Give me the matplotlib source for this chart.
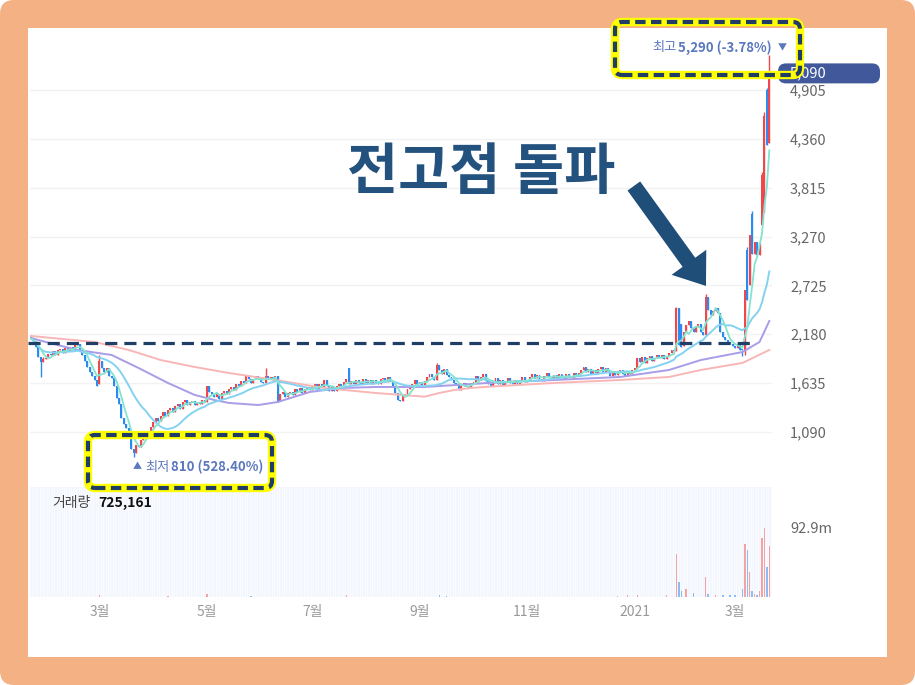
import numpy as np
import pandas as pd
import matplotlib
matplotlib.use("Agg")
import matplotlib.pyplot as plt
from matplotlib.patches import FancyBboxPatch
from matplotlib.transforms import IdentityTransform

plt.rcParams['font.family'] = ['Noto Sans CJK KR', 'DejaVu Sans']

W, H = 915, 685

# daily closes, one list per month of trading days
close_2020_01 = [2130, 2100, 2040, 1930, 1870, 1900, 1920, 1960]
close_2020_02 = [1945, 1990, 1950, 2000, 2020, 1970, 2030, 1990, 2040, 2010,
                 2060, 2070, 2010, 1950, 1880, 1820, 1760, 1720, 1670, 1600]
close_2020_03 = [1880, 1800, 1760, 1800, 1720, 1690, 1600, 1470, 1400, 1250,
                 1180, 1130, 1060, 900, 860, 950, 920, 1000, 1040, 1100, 1080, 1150]
close_2020_04 = [1200, 1250, 1210, 1270, 1310, 1270, 1340, 1360, 1310, 1380,
                 1400, 1350, 1430, 1450, 1390, 1420, 1440, 1390, 1430, 1400, 1450, 1420]
close_2020_05 = [1600, 1540, 1510, 1480, 1510, 1460, 1530, 1550, 1510, 1570,
                 1590, 1560, 1630, 1600, 1660, 1640, 1710, 1680, 1640, 1680, 1710]
close_2020_06 = [1690, 1650, 1640, 1720, 1690, 1700, 1670, 1710, 1440, 1510,
                 1540, 1480, 1520, 1540, 1500, 1570, 1540, 1580, 1530, 1570, 1590, 1560]
close_2020_07 = [1590, 1620, 1570, 1620, 1590, 1670, 1600, 1550, 1590, 1550,
                 1600, 1630, 1600, 1650, 1680, 1630, 1660, 1620, 1670, 1640, 1630, 1680, 1640]
close_2020_08 = [1670, 1630, 1670, 1640, 1630, 1680, 1690, 1650, 1700, 1660,
                 1600, 1520, 1450, 1440, 1490, 1510, 1570, 1590, 1630, 1670, 1630]
close_2020_09 = [1650, 1610, 1660, 1700, 1740, 1700, 1670, 1840, 1780, 1740,
                 1790, 1730, 1700, 1670, 1640, 1610, 1560, 1600, 1640, 1600, 1580, 1640]
close_2020_10 = [1640, 1720, 1670, 1700, 1740, 1660, 1630, 1600, 1650, 1690,
                 1630, 1670, 1610, 1650, 1690, 1640, 1620, 1670, 1630, 1660, 1700, 1650]
close_2020_11 = [1660, 1700, 1740, 1690, 1730, 1680, 1660, 1720, 1750, 1700,
                 1680, 1730, 1690, 1740, 1700, 1680, 1740, 1710, 1690, 1750, 1710]
close_2020_12 = [1750, 1780, 1810, 1760, 1790, 1740, 1780, 1750, 1790, 1810,
                 1760, 1800, 1770, 1710, 1770, 1730, 1760, 1780, 1740, 1720, 1770, 1740, 1780]
close_2021_01 = [1800, 1910, 1870, 1930, 1860, 1910, 1940, 1880, 1920, 1950,
                 1910, 1950, 1900, 1940, 1970, 2000, 1990, 2470, 2060, 2040, 2200]
close_2021_02 = [2280, 2330, 2250, 2200, 2260, 2300, 2210, 2170, 2600, 2450,
                 2400, 2440, 2470, 2420, 2200, 2150, 2120, 2090, 2070, 2050]
close_2021_03 = [2030, 2060, 2010, 2000, 2670, 2560, 3290, 3080, 3210, 3060,
                 3200, 3960, 4620, 4290, 5090]

# candles whose open / wick does not follow the previous close
open_fix = {0: 2150, 28: 1620, 72: 1430, 130: 1800, 266: 2300, 267: 2050,
            292: 1990, 293: 3120, 294: 2730, 295: 3520, 299: 3400, 300: 3540,
            301: 4900, 302: 4310}
high_fix = {5: 1930, 28: 1950, 96: 1800, 166: 1860, 226: 1815, 264: 2480,
            276: 2630, 293: 3150, 295: 3560, 299: 3990, 300: 4660, 301: 4930, 302: 5290}
low_fix = {4: 1700, 42: 810, 101: 1420, 291: 1940, 292: 1950}

# 60 / 120 day averages (they need history before the window)
ma60_idx = [0, 6, 19, 33, 44, 56, 67, 75, 81, 93, 101, 114, 127, 141, 161, 187,
            214, 241, 261, 274, 291, 298, 302]
ma60_val = [2139, 2094, 2005, 1949, 1804, 1637, 1503, 1447, 1414, 1391, 1425, 1536,
            1581, 1592, 1592, 1637, 1670, 1704, 1782, 1893, 1982, 2094, 2328]
ma120_idx = [0, 26, 40, 53, 67, 81, 100, 120, 141, 161, 167, 173, 180, 187, 214,
             241, 261, 274, 291, 302]
ma120_val = [2161, 2094, 2005, 1893, 1815, 1748, 1670, 1581, 1525, 1484, 1525, 1558,
             1581, 1595, 1637, 1670, 1704, 1782, 1860, 2005]

# volume in millions (only the bars that are visible)
volume_m = {28: 3, 56: 1.5, 72: 4, 90: 1, 129: 3, 167: 3, 170: 1.5, 240: 1.5,
            244: 2.5, 248: 2, 260: 2, 264: 57, 265: 20, 266: 8, 268: 11, 271: 5,
            276: 27, 277: 4, 280: 3, 283: 3, 286: 2, 288: 3, 291: 10, 292: 70,
            293: 63, 294: 33, 295: 8, 296: 4, 297: 3, 298: 8, 299: 78, 300: 92,
            301: 40, 302: 68}

price_ticks = [1090, 1635, 2180, 2725, 3270, 3815, 4360, 4905]
month_ticks = [('2020-03-01', '3월'), ('2020-05-01', '5월'), ('2020-07-01', '7월'),
               ('2020-09-01', '9월'), ('2020-11-01', '11월'), ('2021-01-01', '2021'),
               ('2021-03-01', '3월')]
breakout_level = 2080
last_price = 5090
last_volume = '725,161'

closes = np.array(close_2020_01 + close_2020_02 + close_2020_03 + close_2020_04 +
                  close_2020_05 + close_2020_06 + close_2020_07 + close_2020_08 +
                  close_2020_09 + close_2020_10 + close_2020_11 + close_2020_12 +
                  close_2021_01 + close_2021_02 + close_2021_03, dtype=float)
n = len(closes)
x = np.arange(n)
dates = pd.bdate_range('2020-01-22', periods=n)

opens = np.r_[closes[0], closes[:-1]]
for k, v in open_fix.items():
    opens[k] = v
highs = np.maximum(opens, closes)
lows = np.minimum(opens, closes)
for k, v in high_fix.items():
    highs[k] = max(highs[k], v)
for k, v in low_fix.items():
    lows[k] = min(lows[k], v)
up = closes >= opens

RED, BLUE = '#f0474c', '#2b8bef'
NAVY = '#1f4e79'

fig = plt.figure(figsize=(W / 100, H / 100), dpi=100)
fig.patch.set_facecolor('white')
ident = IdentityTransform()


def px_box(x0, y0, x1, y1, **kw):
    # box in pixels, measured from the top-left of the picture
    return FancyBboxPatch((x0, H - y1), x1 - x0, y1 - y0, transform=ident, **kw)


fig.add_artist(px_box(0, 0, W, H, boxstyle='round,pad=0,rounding_size=14',
                      fc='#f4b183', ec='none', zorder=-20))
fig.add_artist(px_box(28, 28, 887, 657, boxstyle='square,pad=0',
                      fc='white', ec='none', zorder=-19))

ax = fig.add_axes([30 / W, (H - 480) / H, 742 / W, 450 / H])
axv = fig.add_axes([30 / W, (H - 597) / H, 742 / W, 110 / H])
ax.set_facecolor('none')
axv.set_facecolor('#f4f6fd')

# candles
col = np.where(up, RED, BLUE)
body = np.maximum(np.abs(closes - opens), 12)
ax.vlines(x, lows, highs, colors=col, lw=1.0, zorder=2)
ax.bar(x, body, bottom=np.minimum(opens, closes), width=0.8, color=col, zorder=2)

# moving averages
s = pd.Series(closes)
ax.plot(ma120_idx, ma120_val, color='#f9b6b6', lw=1.4, zorder=3)
ax.plot(ma60_idx, ma60_val, color='#a99ce8', lw=1.4, zorder=3)
ax.plot(x, s.rolling(20, min_periods=1).mean(), color='#84d2f2', lw=1.4, zorder=3)
ax.plot(x, s.rolling(5, min_periods=1).mean(), color='#82e3cf', lw=1.3, zorder=3)

ax.set_xlim(-0.4, 303.1)
ax.set_ylim(554.6, 5574)
ax.set_yticks(price_ticks)
ax.set_yticklabels([f'{v:,}' for v in price_ticks])
ax.yaxis.tick_right()
ax.tick_params(axis='y', length=0, pad=13, labelsize=10.5, labelcolor='#666666')
ax.tick_params(axis='x', bottom=False, labelbottom=False)
ax.grid(axis='y', color='#f2f2f2', lw=1, zorder=0)
for sp in ax.spines.values():
    sp.set_visible(False)

# breakout line
ax.plot([-1.2, 296], [breakout_level, breakout_level], color='#1f3f66', lw=2.3,
        dashes=(3.8, 2.2), clip_on=False, zorder=5)

ax.text(129.2, 3800, '전고점 돌파', fontsize=40, fontweight='bold', color='#24527f',
        ha='left', va='baseline', zorder=6)
ax.annotate('', xy=(276.1, 2719), xytext=(246.6, 3834),
            arrowprops=dict(arrowstyle='simple,head_length=1.5,head_width=2.2,tail_width=0.8',
                            mutation_scale=14, fc=NAVY, ec='none', lw=0,
                            shrinkA=0, shrinkB=0), zorder=6)

# volume
vx = np.array(sorted(volume_m))
vh = np.array([volume_m[k] for k in vx])
vcol = np.where(up[vx], '#f5a2a2', '#8dbcf2')
axv.vlines(x + 0.5, 0, 146, colors='white', lw=0.45, zorder=0)
axv.bar(vx, vh, width=0.6, color=vcol, zorder=2)
axv.set_xlim(-0.4, 303.1)
axv.set_ylim(0, 146)
axv.set_yticks([92.9])
axv.set_yticklabels(['92.9m'])
axv.yaxis.tick_right()
axv.tick_params(axis='y', length=0, pad=13, labelsize=10.5, labelcolor='#666666')
tick_pos = [int(np.argmax(dates >= pd.Timestamp(d))) for d, _ in month_ticks]
axv.set_xticks(tick_pos)
axv.set_xticklabels([lab for _, lab in month_ticks])
axv.tick_params(axis='x', length=0, pad=6, labelsize=10, labelcolor='#999999')
for sp in axv.spines.values():
    sp.set_visible(False)

renderer = fig.canvas.get_renderer()


def run_text(x0, y_top, parts, color):
    xx = x0
    for txt, weight, size, gap in parts:
        t = fig.text(xx, H - y_top, txt, transform=ident, fontsize=size,
                     fontweight=weight, color=color, va='center', ha='left', zorder=12)
        xx = t.get_window_extent(renderer).x1 + gap


run_text(52, 503, [('거래량', 'normal', 10, 4)], '#444444')
run_text(98, 503, [(last_volume, 'bold', 10, 0)], '#111111')

# last price tag
yd = ax.transData.transform((0, last_price))[1]
fig.add_artist(FancyBboxPatch((778, yd - 10), 102, 20, transform=ident,
                              boxstyle='round,pad=0,rounding_size=8',
                              fc='#41599b', ec='none', zorder=8))
fig.text(790, yd, f'{last_price:,}', transform=ident, fontsize=10.5, color='white',
         va='center', ha='left', zorder=9)

# highlighted boxes
for (bx0, by0, bx1, by1) in [(615, 22, 800, 75), (88, 435, 272, 488)]:
    fig.add_artist(px_box(bx0, by0, bx1, by1, boxstyle='round,pad=0,rounding_size=7',
                          fc='none', ec='#ffff00', lw=6, zorder=10))
    fig.add_artist(px_box(bx0, by0, bx1, by1, boxstyle='round,pad=0,rounding_size=7',
                          fc='none', ec='#1f3d66', lw=3, linestyle=(0, (2.5, 1.3)),
                          zorder=11))

run_text(652, 48, [('최고', 'normal', 9.5, 2), ('5,290 (-3.78%)', 'bold', 9.5, 6),
                   ('▼', 'normal', 6.5, 0)], '#5b78bf')
run_text(133, 467, [('▲', 'normal', 6.5, 3), ('최저', 'normal', 9.5, 2),
                    ('810 (528.40%)', 'bold', 9.5, 0)], '#5b78bf')

fig.savefig('out.png', dpi=100)
